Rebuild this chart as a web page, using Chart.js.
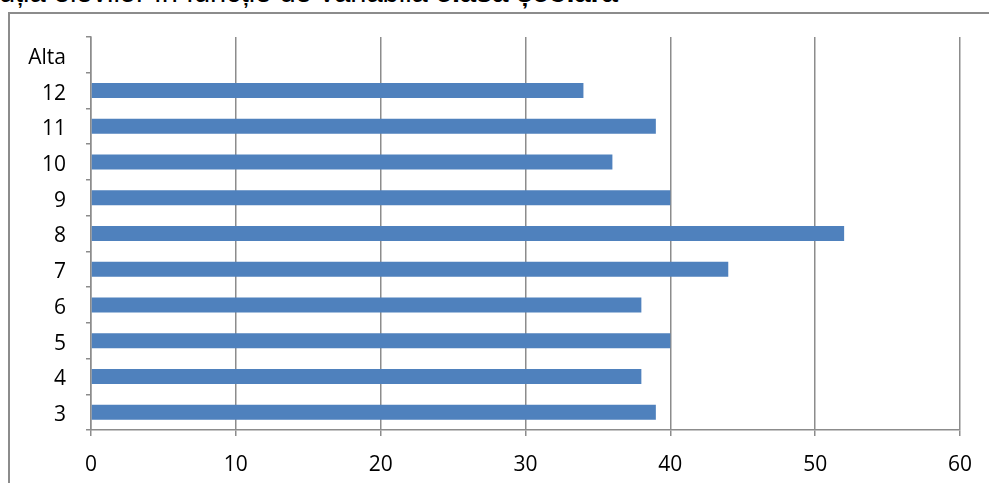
<!DOCTYPE html>
<html>
<head>
<meta charset="utf-8">
<script src="https://cdn.jsdelivr.net/npm/chart.js@4/dist/chart.umd.min.js"></script>
<style>
  html, body { margin: 0; padding: 0; background: #fff; overflow: hidden; }
  #wrap { position: relative; width: 989px; height: 483px; overflow: hidden; }
  #frame { position: absolute; left: 8px; top: 12px; width: 1200px; height: 600px;
           border-left: 2px solid #8c8c8c; border-top: 2px solid #8c8c8c; box-sizing: border-box; }
  #title { position: absolute; right: 371px; top: -22px; white-space: nowrap; line-height: 1;
           font-family: "Liberation Sans", Arial, sans-serif; font-size: 29px; color: #000; }
  #title b { font-weight: bold; }
  #c { position: absolute; left: 0; top: 0; }
</style>
</head>
<body>
<div id="wrap">
  <div id="frame"></div>
  <div id="title">Distribuția elevilor în funcție de variabila <b>clasa școlară</b></div>
  <canvas id="c" width="989" height="483"></canvas>
</div>
<script>
const categories = ['Alta', '12', '11', '10', '9', '8', '7', '6', '5', '4', '3'];
const values = [null, 34, 39, 36, 40, 52, 44, 38, 40, 38, 39];
const xTicks = [0, 10, 20, 30, 40, 50, 60];

const gridColor = '#8c8c8c';
const tickFont = { family: '"Open Sans", "DejaVu Sans", sans-serif', size: 21 };

new Chart(document.getElementById('c'), {
  type: 'bar',
  data: {
    labels: categories,
    datasets: [{
      data: values,
      backgroundColor: '#4F81BD',
      borderWidth: 0,
      categoryPercentage: 1,
      barPercentage: 0.42
    }]
  },
  options: {
    indexAxis: 'y',
    responsive: false,
    animation: false,
    devicePixelRatio: 1,
    layout: { padding: { top: 37, right: 29, left: 0, bottom: 0 } },
    plugins: { legend: { display: false }, tooltip: { enabled: false }, title: { display: false } },
    scales: {
      x: {
        min: 0, max: 60,
        afterBuildTicks: (s) => { s.ticks = xTicks.map(v => ({ value: v })); },
        ticks: { color: '#000', font: tickFont, padding: 16, maxRotation: 0 },
        grid: { color: gridColor, lineWidth: 1.5, tickLength: 6, drawOnChartArea: true },
        border: { color: gridColor, width: 1.5 },
        afterFit: (s) => { s.height = 53; }
      },
      y: {
        ticks: { color: '#000', font: tickFont, padding: 20, labelOffset: 3 },
        grid: { color: gridColor, lineWidth: 1.5, tickLength: 5, drawOnChartArea: false, offset: true },
        border: { color: gridColor, width: 1.5 },
        afterFit: (s) => { s.width = 91; }
      }
    }
  }
});
</script>
</body>
</html>
